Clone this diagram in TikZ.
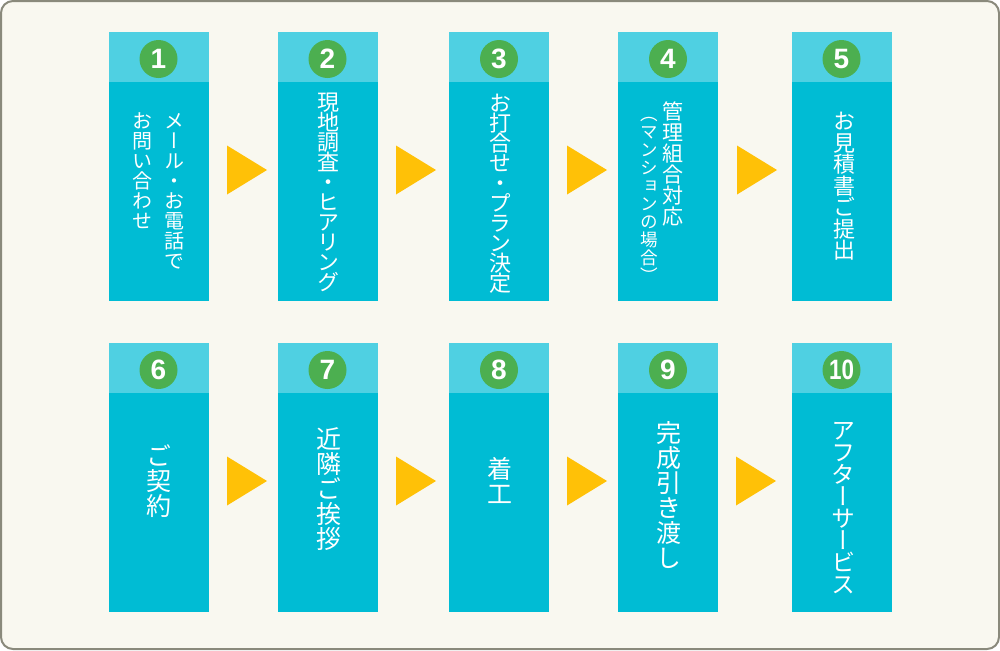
\documentclass[tikz,border=0pt]{standalone}
\usepackage{fontspec}
\usepackage{graphicx}
\setmainfont{Liberation Sans}
\newfontfamily\jpfont[RawFeature=+vert]{Noto Sans CJK JP}
\usetikzlibrary{positioning}

\definecolor{paper}{HTML}{F9F8F0}
\definecolor{framegray}{HTML}{8A8A7C}
\definecolor{headcyan}{HTML}{4FD0E2}
\definecolor{bodycyan}{HTML}{00BCD4}
\definecolor{numgreen}{HTML}{4CAF50}
\definecolor{arrowgold}{HTML}{FFC107}

\makeatletter
% vertical text: #1 font size, #2 pitch, #3 characters
\newcommand\tate[3]{\vbox{\jpfont\fontsize{#1}{#2}\selectfont\baselineskip=#2\lineskiplimit=-\maxdimen\lineskip=0pt\tate@#3\relax}}
\def\tate@#1{\ifx\relax#1\else\hbox to 1em{\hss\vrule height .88em depth .12em width 0pt\relax#1\hss}\expandafter\tate@\fi}
\makeatother

\begin{document}
\begin{tikzpicture}[
        x=0.5pt, y=-0.5pt,
        head/.style={rectangle, fill=headcyan, minimum width=50pt, minimum height=25pt, inner sep=0pt, outer sep=0pt},
        body/.style={rectangle, fill=bodycyan, minimum width=50pt, minimum height=109.5pt, inner sep=0pt, outer sep=0pt},
        num/.style={circle, fill=numgreen, minimum size=19pt, inner sep=0pt, text=white, font=\fontsize{14pt}{14pt}\selectfont\bfseries},
        txt/.style={anchor=north, inner sep=0pt, text=white},
        arrowtri/.style={fill=arrowgold}
    ]
        \useasboundingbox (0,0) rectangle (1000,650);
        \draw[framegray, fill=paper, line width=1pt, rounded corners=6pt] (1,1) rectangle (999,649);

        % Nodes
        \node[head] (h1) at (158.5,57) {};
        \node[body, below=0pt of h1] (b1) {};
        \node[num] (n1) at ([yshift=-1pt]h1.center) {1};
        \node[head] (h2) at (327.5,57) {};
        \node[body, below=0pt of h2] (b2) {};
        \node[num] (n2) at ([yshift=-1pt]h2.center) {2};
        \node[head] (h3) at (499,57) {};
        \node[body, below=0pt of h3] (b3) {};
        \node[num] (n3) at ([yshift=-1pt]h3.center) {3};
        \node[head] (h4) at (668,57) {};
        \node[body, below=0pt of h4] (b4) {};
        \node[num] (n4) at ([yshift=-1pt]h4.center) {4};
        \node[head] (h5) at (841.5,57) {};
        \node[body, below=0pt of h5] (b5) {};
        \node[num] (n5) at ([yshift=-1pt]h5.center) {5};

        \node[head] (h6) at (158.5,368) {};
        \node[body, below=0pt of h6] (b6) {};
        \node[num] (n6) at ([yshift=-1pt]h6.center) {6};
        \node[head] (h7) at (327.5,368) {};
        \node[body, below=0pt of h7] (b7) {};
        \node[num] (n7) at ([yshift=-1pt]h7.center) {7};
        \node[head] (h8) at (499,368) {};
        \node[body, below=0pt of h8] (b8) {};
        \node[num] (n8) at ([yshift=-1pt]h8.center) {8};
        \node[head] (h9) at (668,368) {};
        \node[body, below=0pt of h9] (b9) {};
        \node[num] (n9) at ([yshift=-1pt]h9.center) {9};
        \node[head] (h10) at (841.5,368) {};
        \node[body, below=0pt of h10] (b10) {};
        \node[num] (n10) at ([yshift=-1pt]h10.center) {\scalebox{0.8}[1]{10}};

        % Texts
        \node[txt] (t1a) at (174.5,110) {\tate{10pt}{10pt}{メール・お電話で}};
        \node[txt] (t1b) at (142.5,110) {\tate{10pt}{10pt}{お問い合わせ}};
        \node[txt] (t2) at (328,91) {\tate{11pt}{10pt}{現地調査・ヒアリング}};
        \node[txt] (t3) at (500,92) {\tate{11pt}{10pt}{お打合せ・プラン決定}};
        \node[txt] (t4a) at (673,101) {\tate{10.5pt}{10.5pt}{管理組合対応}};
        \node[txt] (t4b) at (649,105) {\tate{8.8pt}{9pt}{（マンションの場合）}};
        \node[txt] (t5) at (844,110) {\tate{11pt}{10.75pt}{お見積書ご提出}};
        \node[txt] (t6) at (159,443) {\tate{12.5pt}{12.5pt}{ご契約}};
        \node[txt] (t7) at (328.5,426) {\tate{12.5pt}{12.5pt}{近隣ご挨拶}};
        \node[txt] (t8) at (500,456) {\tate{12.5pt}{12.5pt}{着工}};
        \node[txt] (t9) at (668.5,420) {\tate{12.5pt}{12.5pt}{完成引き渡し}};
        \node[txt] (t10) at (843,418) {\tate{12pt}{11pt}{アフターサービス}};

        % Arrows
        \foreach \ax/\ay in {247/170, 416/170, 587/170, 757/170, 247/481, 416/481, 587/481, 756/481}
            \fill[arrowtri, shift={(\ax,\ay)}] (-20,-24.5) -- (20,0) -- (-20,24.5) -- cycle;
    \end{tikzpicture}
\end{document}
